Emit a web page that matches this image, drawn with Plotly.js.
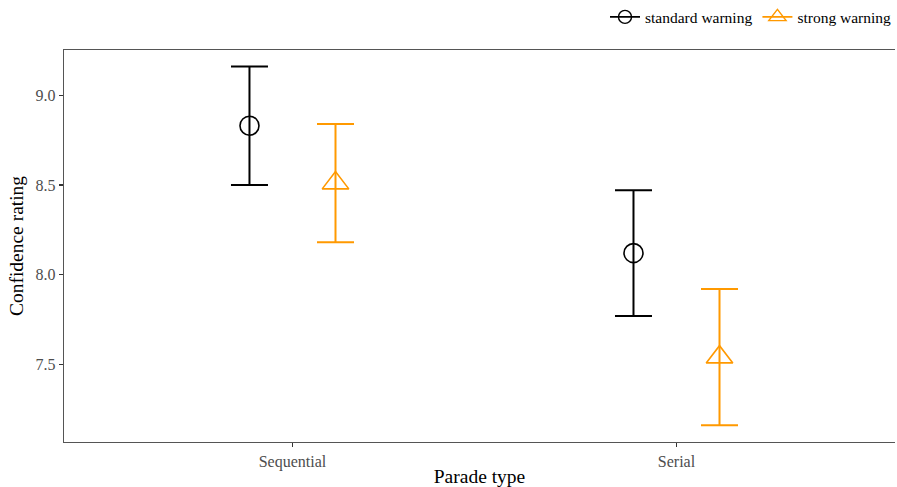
<!DOCTYPE html>
<html>
<head>
<meta charset="utf-8">
<script src="https://cdn.plot.ly/plotly-3.0.1.min.js"></script>
<style>html,body{margin:0;padding:0;background:#fff;}#chart{width:897px;height:487px;}</style>
</head>
<body>
<div id="chart"></div>
<script>
const categories = ["Sequential", "Serial"];
const seriesNames = ["standard warning", "strong warning"];
const standardMean = [8.83, 8.12];
const standardErr = [0.33, 0.35];
const strongMean = [8.51, 7.54];
const strongErr = [0.33, 0.38];
const yTicks = [7.5, 8.0, 8.5, 9.0];
const yTickText = ["7.5", "8.0", "8.5", "9.0"];

const dodge = 0.112;
const catIdx = categories.map((c, i) => i + 1);
const colors = ["#000000", "#FF9900"];
const symbols = ["circle-open", "triangle-up-open"];
const sizes = [19, 23];
const means = [standardMean, strongMean];
const errs = [standardErr, strongErr];

const traces = [];
seriesNames.forEach((name, s) => {
  const off = s === 0 ? -dodge : dodge;
  traces.push({
    type: "scatter", mode: "markers",
    x: catIdx.map(v => v + off), y: means[s],
    showlegend: false, name: name,
    marker: {symbol: symbols[s], size: sizes[s], color: colors[s], line: {width: 1.6, color: colors[s]}},
    error_y: {type: "data", array: errs[s], visible: true, color: colors[s], thickness: 2, width: 18.5}
  });
});
seriesNames.forEach((name, s) => {
  traces.push({
    type: "scatter", mode: "lines+markers",
    x: [null], y: [null], name: name, showlegend: true,
    line: {color: colors[s], width: 1.6},
    marker: {symbol: symbols[s], size: s === 0 ? 13 : 15, color: colors[s], line: {width: 1.4, color: colors[s]}}
  });
});

const layout = {
  width: 897, height: 487,
  margin: {l: 64, r: 0, t: 49, b: 45},
  paper_bgcolor: "#fff", plot_bgcolor: "#fff",
  font: {family: "Liberation Serif, Times New Roman, serif", color: "#000"},
  showlegend: true,
  legend: {orientation: "h", x: 1.003, xanchor: "right", y: 1.04, yanchor: "bottom",
           font: {size: 15.5, color: "#000"}, itemwidth: 30, tracegroupgap: 0},
  xaxis: {
    range: [0.405, 2.569], tickvals: catIdx, ticktext: categories,
    showgrid: false, zeroline: false, showline: true, mirror: true,
    linecolor: "#555", linewidth: 1.3, ticks: "outside", ticklen: 4, tickcolor: "#333", tickwidth: 1.3,
    tickfont: {size: 16, color: "#4d4d4d"},
    title: {text: "Parade type", font: {size: 19.5, color: "#000"}, standoff: 2}
  },
  yaxis: {
    range: [7.067, 9.252], tickvals: yTicks, ticktext: yTickText,
    showgrid: false, zeroline: false, showline: true, mirror: false,
    linecolor: "#555", linewidth: 1.3, ticks: "outside", ticklen: 4, tickcolor: "#333", tickwidth: 1.3,
    tickfont: {size: 16, color: "#4d4d4d"},
    title: {text: "Confidence rating", font: {size: 19.5, color: "#000"}, standoff: 6}
  }
};

Plotly.newPlot("chart", traces, layout, {displayModeBar: false, staticPlot: true});
</script>
</body>
</html>
